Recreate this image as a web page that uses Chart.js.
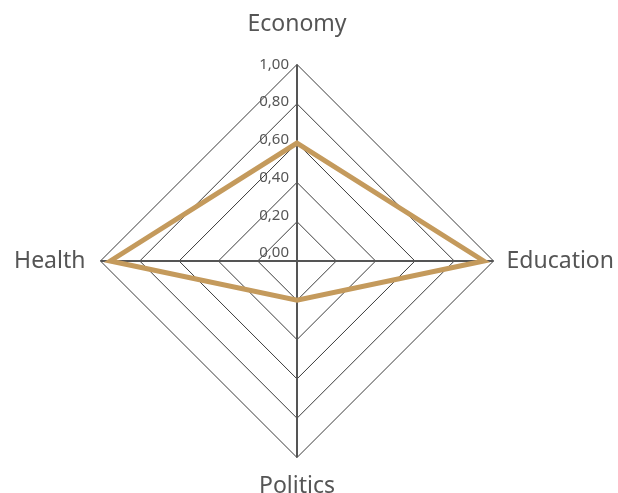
<!DOCTYPE html>
<html>
<head>
<meta charset="utf-8">
<script src="https://cdn.jsdelivr.net/npm/chart.js@4"></script>
<style>
html,body{margin:0;padding:0;background:#fff;width:618px;height:493px;overflow:hidden;position:relative;}
#c{position:absolute;left:-2px;top:5px;}
</style>
</head>
<body>
<canvas id="c" width="634" height="502"></canvas>
<script>
const categories = ["Economy", "Education", "Politics", "Health"];
const seriesValues = [0.60, 0.95, 0.20, 0.95];
const tickValues = [0, 0.2, 0.4, 0.6, 0.8, 1.0];
const tickLabels = ["0,00", "0,20", "0,40", "0,60", "0,80", "1,00"];

const FONT = "'Noto Sans', 'Open Sans', sans-serif";

const tickLabelPlugin = {
  id: 'tickLabelPlugin',
  afterDraw(chart) {
    const s = chart.scales.r;
    const ctx = chart.ctx;
    const pad = 8;
    ctx.save();
    ctx.font = "15px " + FONT;
    ctx.fillStyle = "#555";
    ctx.textAlign = "right";
    ctx.textBaseline = "middle";
    tickValues.forEach((v, i) => {
      const d = s.getDistanceFromCenterForValue(v);
      const y = s.yCenter - pad - d * (s.drawingArea - pad) / s.drawingArea;
      ctx.fillText(tickLabels[i], s.xCenter - 8, y);
    });
    ctx.restore();
  }
};

new Chart(document.getElementById('c'), {
  type: 'radar',
  data: {
    labels: categories,
    datasets: [{
      data: seriesValues,
      borderColor: '#c49a5c',
      borderWidth: 5,
      fill: false,
      pointRadius: 0,
      pointHoverRadius: 0,
      tension: 0
    }]
  },
  options: {
    responsive: false,
    animation: false,
    devicePixelRatio: 1,
    layout: { padding: 0 },
    plugins: { legend: { display: false }, tooltip: { enabled: false } },
    scales: {
      r: {
        z: 1,
        min: 0,
        max: 1,
        ticks: { display: false, stepSize: 0.2 },
        grid: { color: '#3a3a3a', lineWidth: 1 },
        angleLines: { color: '#555', lineWidth: 2 },
        pointLabels: {
          font: { size: 23, family: FONT },
          color: '#555',
          padding: (ctx) => [26, 13, 15, 15][ctx.index]
        }
      }
    }
  },
  plugins: [tickLabelPlugin]
});
</script>
</body>
</html>
